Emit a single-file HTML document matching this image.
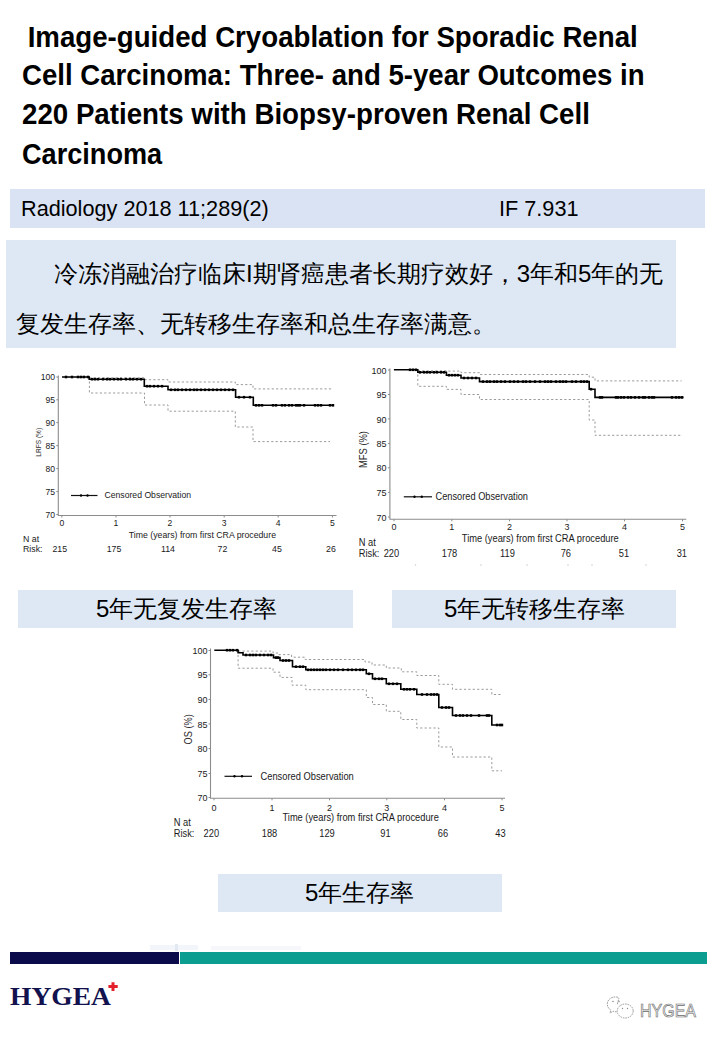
<!DOCTYPE html>
<html><head><meta charset="utf-8">
<style>
*{margin:0;padding:0;box-sizing:border-box}
html,body{width:720px;height:1040px;background:#fff;overflow:hidden}
body{position:relative;font-family:"Liberation Sans",sans-serif;color:#000}
.a{position:absolute;white-space:pre;line-height:1}
.t{font-weight:bold;font-size:29px;transform-origin:0 0}
.box{position:absolute}
.b1{background:#dae3f3}
.b2{background:#dee8f4}
.cap{font-size:24px}
svg{position:absolute;overflow:visible}
</style></head><body>
<div class="a t" style="left:20px;top:22.5px;transform:scaleX(.9536)"> Image-guided Cryoablation for Sporadic Renal</div>
<div class="a t" style="left:22px;top:60.5px;transform:scaleX(.9514)">Cell Carcinoma: Three- and 5-year Outcomes in</div>
<div class="a t" style="left:22px;top:99.5px;transform:scaleX(.955)">220 Patients with Biopsy-proven Renal Cell</div>
<div class="a t" style="left:22px;top:139.5px;transform:scaleX(.935)">Carcinoma</div>

<div class="box b1" style="left:10px;top:189px;width:695px;height:39px"></div>
<div class="a" style="left:21px;top:198px;font-size:22.5px;transform:scaleX(.963);transform-origin:0 0">Radiology 2018 11;289(2)</div>
<div class="a" style="left:499px;top:198px;font-size:22.5px;transform:scaleX(.963);transform-origin:0 0">IF 7.931</div>

<div class="box b2" style="left:6px;top:240px;width:670px;height:108px"></div>
<div class="a cap" style="left:54px;top:262px">冷冻消融治疗临床I期肾癌患者长期疗效好，3年和5年的无</div>
<div class="a cap" style="left:16px;top:312px">复发生存率、无转移生存率和总生存率满意。</div>

<div class="box b2" style="left:18px;top:590px;width:335px;height:38px"></div>
<div class="a cap" style="left:96px;top:597px">5年无复发生存率</div>
<div class="box b2" style="left:392px;top:590px;width:284px;height:38px"></div>
<div class="a cap" style="left:444px;top:597px">5年无转移生存率</div>
<div class="box b2" style="left:218px;top:874px;width:284px;height:38px"></div>
<div class="a cap" style="left:305px;top:881px">5年生存率</div>

<div class="box" style="left:150px;top:945px;width:48px;height:5px;background:#f2f5f9"></div>
<div class="box" style="left:175px;top:944px;width:3px;height:7px;background:#e2e9f0"></div>
<div class="box" style="left:211px;top:946px;width:90px;height:4px;background:#f5f7fa"></div>
<div class="box" style="left:10px;top:952px;width:169px;height:12px;background:#0b0b4c"></div>
<div class="box" style="left:180px;top:952px;width:527px;height:12px;background:#0b9e90"></div>
<div class="a" style="left:10px;top:984.3px;font-family:'Liberation Serif',serif;font-weight:bold;font-size:25px;color:#12124e;transform:scaleX(1.1);transform-origin:0 0">HYGEA</div>
<svg width="720" height="1040" style="left:0;top:0">
<path d="M113,982.2 v8.8 M108.4,986.6 h9.3" stroke="#e3202b" stroke-width="3" fill="none"/>
<g fill="none" stroke="#8f8f8f" stroke-width="0.9" stroke-dasharray="1.6 0.9">
<path d="M617.5,1004.2 C617.5,1000 621,997.5 616.5,997 C611,996.5 607.3,1000 607.3,1004 C607.3,1006.8 608.8,1008.8 610.8,1010.2 L610,1013 L613.2,1011.3 C614.5,1011.7 615.8,1011.9 617.2,1011.9"/>
<ellipse cx="625.2" cy="1011" rx="8" ry="7"/>
</g>
<g fill="#8f8f8f"><circle cx="613" cy="1001.5" r="0.8"/><circle cx="619" cy="1001.5" r="0.8"/><circle cx="622.5" cy="1008.5" r="0.7"/><circle cx="627.5" cy="1008.5" r="0.7"/></g>
</svg>
<div class="a" style="left:640px;top:1002px;font-size:18.4px;color:#f4f4f4;-webkit-text-stroke:0.65px #6a6a6a;transform:scaleX(.87);transform-origin:0 0">HYGEA</div>

<!--CHARTS--><svg width="720" height="1040" viewBox="0 0 720 1040" style="left:0;top:0;font-family:'Liberation Sans',sans-serif"><path d="M58.3,375.5 L58.3,515.5 L336.5,515.5" fill="none" stroke="#8c8c8c" stroke-width="1.1"/><path d="M56.3,377 L58.3,377" stroke="#8c8c8c" stroke-width="1"/><text transform="translate(55,377) scale(0.9091,1)" font-size="9.46" text-anchor="end" fill="#1a1a1a" dominant-baseline="central">100</text><path d="M56.3,399.8 L58.3,399.8" stroke="#8c8c8c" stroke-width="1"/><text transform="translate(55,399.8) scale(0.9091,1)" font-size="9.46" text-anchor="end" fill="#1a1a1a" dominant-baseline="central">95</text><path d="M56.3,422.6 L58.3,422.6" stroke="#8c8c8c" stroke-width="1"/><text transform="translate(55,422.6) scale(0.9091,1)" font-size="9.46" text-anchor="end" fill="#1a1a1a" dominant-baseline="central">90</text><path d="M56.3,445.6 L58.3,445.6" stroke="#8c8c8c" stroke-width="1"/><text transform="translate(55,445.6) scale(0.9091,1)" font-size="9.46" text-anchor="end" fill="#1a1a1a" dominant-baseline="central">85</text><path d="M56.3,468.6 L58.3,468.6" stroke="#8c8c8c" stroke-width="1"/><text transform="translate(55,468.6) scale(0.9091,1)" font-size="9.46" text-anchor="end" fill="#1a1a1a" dominant-baseline="central">80</text><path d="M56.3,491.6 L58.3,491.6" stroke="#8c8c8c" stroke-width="1"/><text transform="translate(55,491.6) scale(0.9091,1)" font-size="9.46" text-anchor="end" fill="#1a1a1a" dominant-baseline="central">75</text><path d="M56.3,514.5 L58.3,514.5" stroke="#8c8c8c" stroke-width="1"/><text transform="translate(55,514.5) scale(0.9091,1)" font-size="9.46" text-anchor="end" fill="#1a1a1a" dominant-baseline="central">70</text><path d="M61.8,515.5 L61.8,517.5" stroke="#8c8c8c" stroke-width="1"/><text transform="translate(61.8,522.8) scale(0.9091,1)" font-size="9.46" text-anchor="middle" fill="#1a1a1a" dominant-baseline="central">0</text><path d="M116,515.5 L116,517.5" stroke="#8c8c8c" stroke-width="1"/><text transform="translate(116,522.8) scale(0.9091,1)" font-size="9.46" text-anchor="middle" fill="#1a1a1a" dominant-baseline="central">1</text><path d="M170,515.5 L170,517.5" stroke="#8c8c8c" stroke-width="1"/><text transform="translate(170,522.8) scale(0.9091,1)" font-size="9.46" text-anchor="middle" fill="#1a1a1a" dominant-baseline="central">2</text><path d="M224.2,515.5 L224.2,517.5" stroke="#8c8c8c" stroke-width="1"/><text transform="translate(224.2,522.8) scale(0.9091,1)" font-size="9.46" text-anchor="middle" fill="#1a1a1a" dominant-baseline="central">3</text><path d="M278.2,515.5 L278.2,517.5" stroke="#8c8c8c" stroke-width="1"/><text transform="translate(278.2,522.8) scale(0.9091,1)" font-size="9.46" text-anchor="middle" fill="#1a1a1a" dominant-baseline="central">4</text><path d="M332.4,515.5 L332.4,517.5" stroke="#8c8c8c" stroke-width="1"/><text transform="translate(332.4,522.8) scale(0.9091,1)" font-size="9.46" text-anchor="middle" fill="#1a1a1a" dominant-baseline="central">5</text><text x="128.8" y="534" font-size="9.68" text-anchor="start" fill="#1a1a1a" dominant-baseline="central" textLength="147.2" lengthAdjust="spacingAndGlyphs">Time (years) from first CRA procedure</text><text transform="translate(23,538.9) scale(0.9091,1)" font-size="9.68" text-anchor="start" fill="#1a1a1a" dominant-baseline="central">N at</text><text transform="translate(23,549.2) scale(0.9091,1)" font-size="9.68" text-anchor="start" fill="#1a1a1a" dominant-baseline="central">Risk:</text><text transform="translate(59.8,549.2) scale(0.9091,1)" font-size="9.68" text-anchor="middle" fill="#1a1a1a" dominant-baseline="central">215</text><text transform="translate(114,549.2) scale(0.9091,1)" font-size="9.68" text-anchor="middle" fill="#1a1a1a" dominant-baseline="central">175</text><text transform="translate(168,549.2) scale(0.9091,1)" font-size="9.68" text-anchor="middle" fill="#1a1a1a" dominant-baseline="central">114</text><text transform="translate(222.5,549.2) scale(0.9091,1)" font-size="9.68" text-anchor="middle" fill="#1a1a1a" dominant-baseline="central">72</text><text transform="translate(277,549.2) scale(0.9091,1)" font-size="9.68" text-anchor="middle" fill="#1a1a1a" dominant-baseline="central">45</text><text transform="translate(331,549.2) scale(0.9091,1)" font-size="9.68" text-anchor="middle" fill="#1a1a1a" dominant-baseline="central">26</text><text x="38.1" y="442.3" font-size="7.4" text-anchor="middle" fill="#2a2a2a" dominant-baseline="central" transform="rotate(-90 38.1 442.3)" textLength="28.8" lengthAdjust="spacingAndGlyphs">LRFS (%)</text><path d="M71,495.5 L97.5,495.5" stroke="#111" stroke-width="1.2"/><circle cx="81" cy="495.5" r="1.2" fill="#000"/><circle cx="87.5" cy="495.5" r="1.2" fill="#000"/><text x="104.5" y="494.7" font-size="9.68" text-anchor="start" fill="#1a1a1a" dominant-baseline="central" textLength="86.5" lengthAdjust="spacingAndGlyphs">Censored Observation</text><path d="M89.2,377.8 L144.3,377.8 L144.3,379.7 L168,379.7 L168,382 L235.3,382 L235.3,384.6 L253,384.6 L253,388.9 L332.3,388.9" fill="none" stroke="#9a9a9a" stroke-width="1" stroke-dasharray="2.2 2.2"/><path d="M89.4,377 L89.4,393 L144.5,393 L144.5,405 L168,405 L168,411.2 L235.3,411.2 L235.3,427 L253,427 L253,441.6 L330,441.6" fill="none" stroke="#9a9a9a" stroke-width="1" stroke-dasharray="2.2 2.2"/><path d="M62,377 L89.2,377 L89.2,379.2 L144.3,379.2 L144.3,386.2 L168,386.2 L168,389.8 L235.6,389.8 L235.6,397.2 L253.3,397.2 L253.3,405.3 L334,405.3" fill="none" stroke="#000" stroke-width="1.6"/><rect x="64.8" y="375.7" width="2.4" height="2.6" fill="#000"/><rect x="70.8" y="375.7" width="2.4" height="2.6" fill="#000"/><rect x="76.8" y="375.7" width="2.4" height="2.6" fill="#000"/><rect x="79.8" y="375.7" width="2.4" height="2.6" fill="#000"/><rect x="82.8" y="375.7" width="2.4" height="2.6" fill="#000"/><rect x="86.8" y="375.7" width="2.4" height="2.6" fill="#000"/><rect x="90.8" y="377.9" width="2.4" height="2.6" fill="#000"/><rect x="93.8" y="377.9" width="2.4" height="2.6" fill="#000"/><rect x="96.8" y="377.9" width="2.4" height="2.6" fill="#000"/><rect x="101.8" y="377.9" width="2.4" height="2.6" fill="#000"/><rect x="105.8" y="377.9" width="2.4" height="2.6" fill="#000"/><rect x="108.8" y="377.9" width="2.4" height="2.6" fill="#000"/><rect x="112.8" y="377.9" width="2.4" height="2.6" fill="#000"/><rect x="116.8" y="377.9" width="2.4" height="2.6" fill="#000"/><rect x="119.8" y="377.9" width="2.4" height="2.6" fill="#000"/><rect x="124.8" y="377.9" width="2.4" height="2.6" fill="#000"/><rect x="128.8" y="377.9" width="2.4" height="2.6" fill="#000"/><rect x="131.8" y="377.9" width="2.4" height="2.6" fill="#000"/><rect x="135.8" y="377.9" width="2.4" height="2.6" fill="#000"/><rect x="139.8" y="377.9" width="2.4" height="2.6" fill="#000"/><rect x="145.8" y="384.9" width="2.4" height="2.6" fill="#000"/><rect x="148.8" y="384.9" width="2.4" height="2.6" fill="#000"/><rect x="152.8" y="384.9" width="2.4" height="2.6" fill="#000"/><rect x="156.8" y="384.9" width="2.4" height="2.6" fill="#000"/><rect x="160.8" y="384.9" width="2.4" height="2.6" fill="#000"/><rect x="169.8" y="388.5" width="2.4" height="2.6" fill="#000"/><rect x="173.8" y="388.5" width="2.4" height="2.6" fill="#000"/><rect x="176.8" y="388.5" width="2.4" height="2.6" fill="#000"/><rect x="180.8" y="388.5" width="2.4" height="2.6" fill="#000"/><rect x="184.8" y="388.5" width="2.4" height="2.6" fill="#000"/><rect x="188.8" y="388.5" width="2.4" height="2.6" fill="#000"/><rect x="192.8" y="388.5" width="2.4" height="2.6" fill="#000"/><rect x="195.8" y="388.5" width="2.4" height="2.6" fill="#000"/><rect x="199.8" y="388.5" width="2.4" height="2.6" fill="#000"/><rect x="203.8" y="388.5" width="2.4" height="2.6" fill="#000"/><rect x="207.8" y="388.5" width="2.4" height="2.6" fill="#000"/><rect x="211.8" y="388.5" width="2.4" height="2.6" fill="#000"/><rect x="215.8" y="388.5" width="2.4" height="2.6" fill="#000"/><rect x="219.8" y="388.5" width="2.4" height="2.6" fill="#000"/><rect x="223.8" y="388.5" width="2.4" height="2.6" fill="#000"/><rect x="227.8" y="388.5" width="2.4" height="2.6" fill="#000"/><rect x="231.8" y="388.5" width="2.4" height="2.6" fill="#000"/><rect x="237.8" y="395.9" width="2.4" height="2.6" fill="#000"/><rect x="242.8" y="395.9" width="2.4" height="2.6" fill="#000"/><rect x="248.8" y="395.9" width="2.4" height="2.6" fill="#000"/><rect x="254.8" y="404.0" width="2.4" height="2.6" fill="#000"/><rect x="257.8" y="404.0" width="2.4" height="2.6" fill="#000"/><rect x="260.8" y="404.0" width="2.4" height="2.6" fill="#000"/><rect x="271.8" y="404.0" width="2.4" height="2.6" fill="#000"/><rect x="274.8" y="404.0" width="2.4" height="2.6" fill="#000"/><rect x="280.8" y="404.0" width="2.4" height="2.6" fill="#000"/><rect x="283.8" y="404.0" width="2.4" height="2.6" fill="#000"/><rect x="287.8" y="404.0" width="2.4" height="2.6" fill="#000"/><rect x="290.8" y="404.0" width="2.4" height="2.6" fill="#000"/><rect x="294.8" y="404.0" width="2.4" height="2.6" fill="#000"/><rect x="296.8" y="404.0" width="2.4" height="2.6" fill="#000"/><rect x="298.8" y="404.0" width="2.4" height="2.6" fill="#000"/><rect x="302.8" y="404.0" width="2.4" height="2.6" fill="#000"/><rect x="313.8" y="404.0" width="2.4" height="2.6" fill="#000"/><rect x="316.8" y="404.0" width="2.4" height="2.6" fill="#000"/><rect x="319.8" y="404.0" width="2.4" height="2.6" fill="#000"/><rect x="328.8" y="404.0" width="2.4" height="2.6" fill="#000"/><rect x="331.8" y="404.0" width="2.4" height="2.6" fill="#000"/><path d="M389.9,368.5 L389.9,519.3 L686.3,519.3" fill="none" stroke="#8c8c8c" stroke-width="1.1"/><path d="M387.9,370 L389.9,370" stroke="#8c8c8c" stroke-width="1"/><text transform="translate(386.5,370) scale(0.9091,1)" font-size="9.90" text-anchor="end" fill="#1a1a1a" dominant-baseline="central">100</text><path d="M387.9,394.5 L389.9,394.5" stroke="#8c8c8c" stroke-width="1"/><text transform="translate(386.5,394.5) scale(0.9091,1)" font-size="9.90" text-anchor="end" fill="#1a1a1a" dominant-baseline="central">95</text><path d="M387.9,418.9 L389.9,418.9" stroke="#8c8c8c" stroke-width="1"/><text transform="translate(386.5,418.9) scale(0.9091,1)" font-size="9.90" text-anchor="end" fill="#1a1a1a" dominant-baseline="central">90</text><path d="M387.9,443.6 L389.9,443.6" stroke="#8c8c8c" stroke-width="1"/><text transform="translate(386.5,443.6) scale(0.9091,1)" font-size="9.90" text-anchor="end" fill="#1a1a1a" dominant-baseline="central">85</text><path d="M387.9,467.8 L389.9,467.8" stroke="#8c8c8c" stroke-width="1"/><text transform="translate(386.5,467.8) scale(0.9091,1)" font-size="9.90" text-anchor="end" fill="#1a1a1a" dominant-baseline="central">80</text><path d="M387.9,492.4 L389.9,492.4" stroke="#8c8c8c" stroke-width="1"/><text transform="translate(386.5,492.4) scale(0.9091,1)" font-size="9.90" text-anchor="end" fill="#1a1a1a" dominant-baseline="central">75</text><path d="M387.9,517 L389.9,517" stroke="#8c8c8c" stroke-width="1"/><text transform="translate(386.5,517) scale(0.9091,1)" font-size="9.90" text-anchor="end" fill="#1a1a1a" dominant-baseline="central">70</text><path d="M394,519.3 L394,521.3" stroke="#8c8c8c" stroke-width="1"/><text transform="translate(394,526.5) scale(0.9091,1)" font-size="9.90" text-anchor="middle" fill="#1a1a1a" dominant-baseline="central">0</text><path d="M451.8,519.3 L451.8,521.3" stroke="#8c8c8c" stroke-width="1"/><text transform="translate(451.8,526.5) scale(0.9091,1)" font-size="9.90" text-anchor="middle" fill="#1a1a1a" dominant-baseline="central">1</text><path d="M509.5,519.3 L509.5,521.3" stroke="#8c8c8c" stroke-width="1"/><text transform="translate(509.5,526.5) scale(0.9091,1)" font-size="9.90" text-anchor="middle" fill="#1a1a1a" dominant-baseline="central">2</text><path d="M567,519.3 L567,521.3" stroke="#8c8c8c" stroke-width="1"/><text transform="translate(567,526.5) scale(0.9091,1)" font-size="9.90" text-anchor="middle" fill="#1a1a1a" dominant-baseline="central">3</text><path d="M624.5,519.3 L624.5,521.3" stroke="#8c8c8c" stroke-width="1"/><text transform="translate(624.5,526.5) scale(0.9091,1)" font-size="9.90" text-anchor="middle" fill="#1a1a1a" dominant-baseline="central">4</text><path d="M682.5,519.3 L682.5,521.3" stroke="#8c8c8c" stroke-width="1"/><text transform="translate(682.5,526.5) scale(0.9091,1)" font-size="9.90" text-anchor="middle" fill="#1a1a1a" dominant-baseline="central">5</text><text x="461.8" y="538.2" font-size="10.23" text-anchor="start" fill="#1a1a1a" dominant-baseline="central" textLength="157" lengthAdjust="spacingAndGlyphs">Time (years) from first CRA procedure</text><text transform="translate(358.8,542.2) scale(0.9091,1)" font-size="10.23" text-anchor="start" fill="#1a1a1a" dominant-baseline="central">N at</text><text transform="translate(358.8,553.2) scale(0.9091,1)" font-size="10.23" text-anchor="start" fill="#1a1a1a" dominant-baseline="central">Risk:</text><text transform="translate(391.4,553.2) scale(0.9091,1)" font-size="10.23" text-anchor="middle" fill="#1a1a1a" dominant-baseline="central">220</text><text transform="translate(449.5,553.2) scale(0.9091,1)" font-size="10.23" text-anchor="middle" fill="#1a1a1a" dominant-baseline="central">178</text><text transform="translate(507.5,553.2) scale(0.9091,1)" font-size="10.23" text-anchor="middle" fill="#1a1a1a" dominant-baseline="central">119</text><text transform="translate(565.8,553.2) scale(0.9091,1)" font-size="10.23" text-anchor="middle" fill="#1a1a1a" dominant-baseline="central">76</text><text transform="translate(624,553.2) scale(0.9091,1)" font-size="10.23" text-anchor="middle" fill="#1a1a1a" dominant-baseline="central">51</text><text transform="translate(681.8,553.2) scale(0.9091,1)" font-size="10.23" text-anchor="middle" fill="#1a1a1a" dominant-baseline="central">31</text><text x="362.9" y="449.5" font-size="10.8" text-anchor="middle" fill="#2a2a2a" dominant-baseline="central" transform="rotate(-90 362.9 449.5)" textLength="37" lengthAdjust="spacingAndGlyphs">MFS (%)</text><path d="M403.8,496.8 L432,496.8" stroke="#111" stroke-width="1.2"/><circle cx="414.5" cy="496.8" r="1.2" fill="#000"/><circle cx="421.8" cy="496.8" r="1.2" fill="#000"/><text x="435.5" y="496.8" font-size="10.23" text-anchor="start" fill="#1a1a1a" dominant-baseline="central" textLength="92.5" lengthAdjust="spacingAndGlyphs">Censored Observation</text><path d="M417.8,370.8 L446.4,370.8 L446.4,371.1 L461,371.1 L461,372.7 L479.5,372.7 L479.5,374.5 L589.2,374.5 L589.2,377.2 L595,377.2 L595,380.9 L681.6,380.9" fill="none" stroke="#9a9a9a" stroke-width="1" stroke-dasharray="2.2 2.2"/><path d="M417.8,370 L417.8,386.3 L446.4,386.3 L446.4,389.4 L461,389.4 L461,394.5 L479.5,394.5 L479.5,399.5 L589.2,399.5 L589.2,420 L595,420 L595,435.3 L682.6,435.3" fill="none" stroke="#9a9a9a" stroke-width="1" stroke-dasharray="2.2 2.2"/><path d="M393.9,369.8 L417.8,369.8 L417.8,372.3 L446.4,372.3 L446.4,375.2 L461,375.2 L461,378 L479.5,378 L479.5,381.6 L589.2,381.6 L589.2,389.2 L595,389.2 L595,397.4 L683.5,397.4" fill="none" stroke="#000" stroke-width="1.6"/><rect x="408.8" y="368.5" width="2.4" height="2.6" fill="#000"/><rect x="411.8" y="368.5" width="2.4" height="2.6" fill="#000"/><rect x="414.8" y="368.5" width="2.4" height="2.6" fill="#000"/><rect x="418.8" y="371.0" width="2.4" height="2.6" fill="#000"/><rect x="422.8" y="371.0" width="2.4" height="2.6" fill="#000"/><rect x="425.8" y="371.0" width="2.4" height="2.6" fill="#000"/><rect x="428.8" y="371.0" width="2.4" height="2.6" fill="#000"/><rect x="432.8" y="371.0" width="2.4" height="2.6" fill="#000"/><rect x="435.8" y="371.0" width="2.4" height="2.6" fill="#000"/><rect x="439.8" y="371.0" width="2.4" height="2.6" fill="#000"/><rect x="442.8" y="371.0" width="2.4" height="2.6" fill="#000"/><rect x="447.8" y="373.9" width="2.4" height="2.6" fill="#000"/><rect x="450.8" y="373.9" width="2.4" height="2.6" fill="#000"/><rect x="453.8" y="373.9" width="2.4" height="2.6" fill="#000"/><rect x="456.8" y="373.9" width="2.4" height="2.6" fill="#000"/><rect x="462.8" y="376.7" width="2.4" height="2.6" fill="#000"/><rect x="466.8" y="376.7" width="2.4" height="2.6" fill="#000"/><rect x="470.8" y="376.7" width="2.4" height="2.6" fill="#000"/><rect x="474.8" y="376.7" width="2.4" height="2.6" fill="#000"/><rect x="481.8" y="380.3" width="2.4" height="2.6" fill="#000"/><rect x="485.8" y="380.3" width="2.4" height="2.6" fill="#000"/><rect x="488.8" y="380.3" width="2.4" height="2.6" fill="#000"/><rect x="492.8" y="380.3" width="2.4" height="2.6" fill="#000"/><rect x="495.8" y="380.3" width="2.4" height="2.6" fill="#000"/><rect x="499.8" y="380.3" width="2.4" height="2.6" fill="#000"/><rect x="503.8" y="380.3" width="2.4" height="2.6" fill="#000"/><rect x="508.8" y="380.3" width="2.4" height="2.6" fill="#000"/><rect x="512.8" y="380.3" width="2.4" height="2.6" fill="#000"/><rect x="516.8" y="380.3" width="2.4" height="2.6" fill="#000"/><rect x="521.8" y="380.3" width="2.4" height="2.6" fill="#000"/><rect x="524.8" y="380.3" width="2.4" height="2.6" fill="#000"/><rect x="528.8" y="380.3" width="2.4" height="2.6" fill="#000"/><rect x="533.8" y="380.3" width="2.4" height="2.6" fill="#000"/><rect x="538.8" y="380.3" width="2.4" height="2.6" fill="#000"/><rect x="543.8" y="380.3" width="2.4" height="2.6" fill="#000"/><rect x="546.8" y="380.3" width="2.4" height="2.6" fill="#000"/><rect x="549.8" y="380.3" width="2.4" height="2.6" fill="#000"/><rect x="554.8" y="380.3" width="2.4" height="2.6" fill="#000"/><rect x="558.8" y="380.3" width="2.4" height="2.6" fill="#000"/><rect x="561.8" y="380.3" width="2.4" height="2.6" fill="#000"/><rect x="564.8" y="380.3" width="2.4" height="2.6" fill="#000"/><rect x="570.8" y="380.3" width="2.4" height="2.6" fill="#000"/><rect x="574.8" y="380.3" width="2.4" height="2.6" fill="#000"/><rect x="579.8" y="380.3" width="2.4" height="2.6" fill="#000"/><rect x="582.8" y="380.3" width="2.4" height="2.6" fill="#000"/><rect x="585.8" y="380.3" width="2.4" height="2.6" fill="#000"/><rect x="589.8" y="387.9" width="2.4" height="2.6" fill="#000"/><rect x="598.8" y="396.09999999999997" width="2.4" height="2.6" fill="#000"/><rect x="600.8" y="396.09999999999997" width="2.4" height="2.6" fill="#000"/><rect x="614.8" y="396.09999999999997" width="2.4" height="2.6" fill="#000"/><rect x="616.8" y="396.09999999999997" width="2.4" height="2.6" fill="#000"/><rect x="619.8" y="396.09999999999997" width="2.4" height="2.6" fill="#000"/><rect x="622.8" y="396.09999999999997" width="2.4" height="2.6" fill="#000"/><rect x="626.8" y="396.09999999999997" width="2.4" height="2.6" fill="#000"/><rect x="629.8" y="396.09999999999997" width="2.4" height="2.6" fill="#000"/><rect x="633.8" y="396.09999999999997" width="2.4" height="2.6" fill="#000"/><rect x="637.8" y="396.09999999999997" width="2.4" height="2.6" fill="#000"/><rect x="641.8" y="396.09999999999997" width="2.4" height="2.6" fill="#000"/><rect x="643.8" y="396.09999999999997" width="2.4" height="2.6" fill="#000"/><rect x="647.8" y="396.09999999999997" width="2.4" height="2.6" fill="#000"/><rect x="650.8" y="396.09999999999997" width="2.4" height="2.6" fill="#000"/><rect x="652.8" y="396.09999999999997" width="2.4" height="2.6" fill="#000"/><rect x="670.8" y="396.09999999999997" width="2.4" height="2.6" fill="#000"/><rect x="674.8" y="396.09999999999997" width="2.4" height="2.6" fill="#000"/><rect x="677.8" y="396.09999999999997" width="2.4" height="2.6" fill="#000"/><rect x="680.8" y="396.09999999999997" width="2.4" height="2.6" fill="#000"/><path d="M210.5,648.5 L210.5,798.3 L505,798.3" fill="none" stroke="#8c8c8c" stroke-width="1.1"/><path d="M208.5,650.5 L210.5,650.5" stroke="#8c8c8c" stroke-width="1"/><text transform="translate(207.5,650.5) scale(0.9091,1)" font-size="9.90" text-anchor="end" fill="#1a1a1a" dominant-baseline="central">100</text><path d="M208.5,674.8 L210.5,674.8" stroke="#8c8c8c" stroke-width="1"/><text transform="translate(207.5,674.8) scale(0.9091,1)" font-size="9.90" text-anchor="end" fill="#1a1a1a" dominant-baseline="central">95</text><path d="M208.5,699.4 L210.5,699.4" stroke="#8c8c8c" stroke-width="1"/><text transform="translate(207.5,699.4) scale(0.9091,1)" font-size="9.90" text-anchor="end" fill="#1a1a1a" dominant-baseline="central">90</text><path d="M208.5,723.9 L210.5,723.9" stroke="#8c8c8c" stroke-width="1"/><text transform="translate(207.5,723.9) scale(0.9091,1)" font-size="9.90" text-anchor="end" fill="#1a1a1a" dominant-baseline="central">85</text><path d="M208.5,748.6 L210.5,748.6" stroke="#8c8c8c" stroke-width="1"/><text transform="translate(207.5,748.6) scale(0.9091,1)" font-size="9.90" text-anchor="end" fill="#1a1a1a" dominant-baseline="central">80</text><path d="M208.5,773.5 L210.5,773.5" stroke="#8c8c8c" stroke-width="1"/><text transform="translate(207.5,773.5) scale(0.9091,1)" font-size="9.90" text-anchor="end" fill="#1a1a1a" dominant-baseline="central">75</text><path d="M208.5,797.5 L210.5,797.5" stroke="#8c8c8c" stroke-width="1"/><text transform="translate(207.5,797.5) scale(0.9091,1)" font-size="9.90" text-anchor="end" fill="#1a1a1a" dominant-baseline="central">70</text><path d="M214,798.3 L214,800.3" stroke="#8c8c8c" stroke-width="1"/><text transform="translate(214,807) scale(0.9091,1)" font-size="9.90" text-anchor="middle" fill="#1a1a1a" dominant-baseline="central">0</text><path d="M272,798.3 L272,800.3" stroke="#8c8c8c" stroke-width="1"/><text transform="translate(272,807) scale(0.9091,1)" font-size="9.90" text-anchor="middle" fill="#1a1a1a" dominant-baseline="central">1</text><path d="M329.5,798.3 L329.5,800.3" stroke="#8c8c8c" stroke-width="1"/><text transform="translate(329.5,807) scale(0.9091,1)" font-size="9.90" text-anchor="middle" fill="#1a1a1a" dominant-baseline="central">2</text><path d="M386.8,798.3 L386.8,800.3" stroke="#8c8c8c" stroke-width="1"/><text transform="translate(386.8,807) scale(0.9091,1)" font-size="9.90" text-anchor="middle" fill="#1a1a1a" dominant-baseline="central">3</text><path d="M444.5,798.3 L444.5,800.3" stroke="#8c8c8c" stroke-width="1"/><text transform="translate(444.5,807) scale(0.9091,1)" font-size="9.90" text-anchor="middle" fill="#1a1a1a" dominant-baseline="central">4</text><path d="M502,798.3 L502,800.3" stroke="#8c8c8c" stroke-width="1"/><text transform="translate(502,807) scale(0.9091,1)" font-size="9.90" text-anchor="middle" fill="#1a1a1a" dominant-baseline="central">5</text><text x="282.5" y="817.6" font-size="10.23" text-anchor="start" fill="#1a1a1a" dominant-baseline="central" textLength="156.3" lengthAdjust="spacingAndGlyphs">Time (years) from first CRA procedure</text><text transform="translate(173.8,822.6) scale(0.9091,1)" font-size="10.23" text-anchor="start" fill="#1a1a1a" dominant-baseline="central">N at</text><text transform="translate(173.8,833.3) scale(0.9091,1)" font-size="10.23" text-anchor="start" fill="#1a1a1a" dominant-baseline="central">Risk:</text><text transform="translate(211.3,833.3) scale(0.9091,1)" font-size="10.23" text-anchor="middle" fill="#1a1a1a" dominant-baseline="central">220</text><text transform="translate(269.5,833.3) scale(0.9091,1)" font-size="10.23" text-anchor="middle" fill="#1a1a1a" dominant-baseline="central">188</text><text transform="translate(327,833.3) scale(0.9091,1)" font-size="10.23" text-anchor="middle" fill="#1a1a1a" dominant-baseline="central">129</text><text transform="translate(385.5,833.3) scale(0.9091,1)" font-size="10.23" text-anchor="middle" fill="#1a1a1a" dominant-baseline="central">91</text><text transform="translate(443,833.3) scale(0.9091,1)" font-size="10.23" text-anchor="middle" fill="#1a1a1a" dominant-baseline="central">66</text><text transform="translate(500.5,833.3) scale(0.9091,1)" font-size="10.23" text-anchor="middle" fill="#1a1a1a" dominant-baseline="central">43</text><text x="188.2" y="729.3" font-size="10.8" text-anchor="middle" fill="#2a2a2a" dominant-baseline="central" transform="rotate(-90 188.2 729.3)" textLength="30.2" lengthAdjust="spacingAndGlyphs">OS (%)</text><path d="M224.5,776.3 L252,776.3" stroke="#111" stroke-width="1.2"/><circle cx="234.5" cy="776.3" r="1.2" fill="#000"/><circle cx="242" cy="776.3" r="1.2" fill="#000"/><text x="260.5" y="776.3" font-size="10.23" text-anchor="start" fill="#1a1a1a" dominant-baseline="central" textLength="93.3" lengthAdjust="spacingAndGlyphs">Censored Observation</text><path d="M238.1,651.1 L273,651.1 L273,653 L278,653 L278,654.6 L291.6,654.6 L291.6,657.2 L305.2,657.2 L305.2,659.5 L365,659.5 L365,662 L372,662 L372,665 L386.3,665 L386.3,668 L401.3,668 L401.3,671.8 L416.8,671.8 L416.8,675.5 L438.8,675.5 L438.8,684.3 L452.5,684.3 L452.5,689.3 L491.8,689.3 L491.8,694.5 L502.5,694.5" fill="none" stroke="#9a9a9a" stroke-width="1" stroke-dasharray="2.2 2.2"/><path d="M238.1,650.5 L238.1,668.2 L273,668.2 L273,672.2 L280,672.2 L280,677.4 L292,677.4 L292,685.2 L305.8,685.2 L305.8,689.7 L366.3,689.7 L366.3,697.5 L372.5,697.5 L372.5,704.5 L386.3,704.5 L386.3,711.3 L400.8,711.3 L400.8,719.5 L416.8,719.5 L416.8,728 L438.8,728 L438.8,747 L452.5,747 L452.5,757 L491.8,757 L491.8,770.8 L502,770.8" fill="none" stroke="#9a9a9a" stroke-width="1" stroke-dasharray="2.2 2.2"/><path d="M214.3,650.2 L238.1,650.2 L238.1,652.7 L243,652.7 L243,655 L273.5,655 L273.5,657.6 L280,657.6 L280,660.5 L292.5,660.5 L292.5,666.7 L305.8,666.7 L305.8,669.8 L366.3,669.8 L366.3,673.8 L372.5,673.8 L372.5,678.8 L386.3,678.8 L386.3,683.8 L400.8,683.8 L400.8,689.3 L416.8,689.3 L416.8,694.5 L438.8,694.5 L438.8,707.5 L452.5,707.5 L452.5,715.5 L491.8,715.5 L491.8,725 L502.5,725" fill="none" stroke="#000" stroke-width="1.6"/><rect x="225.8" y="648.9000000000001" width="2.4" height="2.6" fill="#000"/><rect x="228.8" y="648.9000000000001" width="2.4" height="2.6" fill="#000"/><rect x="231.8" y="648.9000000000001" width="2.4" height="2.6" fill="#000"/><rect x="235.8" y="648.9000000000001" width="2.4" height="2.6" fill="#000"/><rect x="244.8" y="653.7" width="2.4" height="2.6" fill="#000"/><rect x="248.8" y="653.7" width="2.4" height="2.6" fill="#000"/><rect x="251.8" y="653.7" width="2.4" height="2.6" fill="#000"/><rect x="254.8" y="653.7" width="2.4" height="2.6" fill="#000"/><rect x="258.8" y="653.7" width="2.4" height="2.6" fill="#000"/><rect x="262.8" y="653.7" width="2.4" height="2.6" fill="#000"/><rect x="266.8" y="653.7" width="2.4" height="2.6" fill="#000"/><rect x="269.8" y="653.7" width="2.4" height="2.6" fill="#000"/><rect x="274.8" y="656.3000000000001" width="2.4" height="2.6" fill="#000"/><rect x="276.8" y="656.3000000000001" width="2.4" height="2.6" fill="#000"/><rect x="281.8" y="659.2" width="2.4" height="2.6" fill="#000"/><rect x="284.8" y="659.2" width="2.4" height="2.6" fill="#000"/><rect x="287.8" y="659.2" width="2.4" height="2.6" fill="#000"/><rect x="294.8" y="665.4000000000001" width="2.4" height="2.6" fill="#000"/><rect x="298.8" y="665.4000000000001" width="2.4" height="2.6" fill="#000"/><rect x="301.8" y="665.4000000000001" width="2.4" height="2.6" fill="#000"/><rect x="306.8" y="668.5" width="2.4" height="2.6" fill="#000"/><rect x="309.8" y="668.5" width="2.4" height="2.6" fill="#000"/><rect x="312.8" y="668.5" width="2.4" height="2.6" fill="#000"/><rect x="315.8" y="668.5" width="2.4" height="2.6" fill="#000"/><rect x="318.8" y="668.5" width="2.4" height="2.6" fill="#000"/><rect x="321.8" y="668.5" width="2.4" height="2.6" fill="#000"/><rect x="324.8" y="668.5" width="2.4" height="2.6" fill="#000"/><rect x="328.8" y="668.5" width="2.4" height="2.6" fill="#000"/><rect x="332.8" y="668.5" width="2.4" height="2.6" fill="#000"/><rect x="336.8" y="668.5" width="2.4" height="2.6" fill="#000"/><rect x="341.8" y="668.5" width="2.4" height="2.6" fill="#000"/><rect x="346.8" y="668.5" width="2.4" height="2.6" fill="#000"/><rect x="350.8" y="668.5" width="2.4" height="2.6" fill="#000"/><rect x="354.8" y="668.5" width="2.4" height="2.6" fill="#000"/><rect x="358.8" y="668.5" width="2.4" height="2.6" fill="#000"/><rect x="361.8" y="668.5" width="2.4" height="2.6" fill="#000"/><rect x="367.8" y="672.5" width="2.4" height="2.6" fill="#000"/><rect x="373.8" y="677.5" width="2.4" height="2.6" fill="#000"/><rect x="377.8" y="677.5" width="2.4" height="2.6" fill="#000"/><rect x="380.8" y="677.5" width="2.4" height="2.6" fill="#000"/><rect x="387.8" y="682.5" width="2.4" height="2.6" fill="#000"/><rect x="391.8" y="682.5" width="2.4" height="2.6" fill="#000"/><rect x="395.8" y="682.5" width="2.4" height="2.6" fill="#000"/><rect x="402.8" y="688.0" width="2.4" height="2.6" fill="#000"/><rect x="405.8" y="688.0" width="2.4" height="2.6" fill="#000"/><rect x="408.8" y="688.0" width="2.4" height="2.6" fill="#000"/><rect x="412.8" y="688.0" width="2.4" height="2.6" fill="#000"/><rect x="420.8" y="693.2" width="2.4" height="2.6" fill="#000"/><rect x="425.8" y="693.2" width="2.4" height="2.6" fill="#000"/><rect x="429.8" y="693.2" width="2.4" height="2.6" fill="#000"/><rect x="432.8" y="693.2" width="2.4" height="2.6" fill="#000"/><rect x="435.8" y="693.2" width="2.4" height="2.6" fill="#000"/><rect x="440.8" y="706.2" width="2.4" height="2.6" fill="#000"/><rect x="444.8" y="706.2" width="2.4" height="2.6" fill="#000"/><rect x="447.8" y="706.2" width="2.4" height="2.6" fill="#000"/><rect x="454.8" y="714.2" width="2.4" height="2.6" fill="#000"/><rect x="458.8" y="714.2" width="2.4" height="2.6" fill="#000"/><rect x="461.8" y="714.2" width="2.4" height="2.6" fill="#000"/><rect x="465.8" y="714.2" width="2.4" height="2.6" fill="#000"/><rect x="469.8" y="714.2" width="2.4" height="2.6" fill="#000"/><rect x="477.8" y="714.2" width="2.4" height="2.6" fill="#000"/><rect x="485.8" y="714.2" width="2.4" height="2.6" fill="#000"/><rect x="487.8" y="714.2" width="2.4" height="2.6" fill="#000"/><rect x="495.8" y="723.7" width="2.4" height="2.6" fill="#000"/><rect x="498.8" y="723.7" width="2.4" height="2.6" fill="#000"/><rect x="500.8" y="723.7" width="2.4" height="2.6" fill="#000"/><rect x="414.9" y="564.5" width="1.2" height="1" fill="#bbb"/><rect x="480.4" y="564.5" width="1.2" height="1" fill="#bbb"/><rect x="526.4" y="564.5" width="1.2" height="1" fill="#bbb"/><rect x="567.4" y="564.5" width="1.2" height="1" fill="#bbb"/><rect x="591.4" y="564.5" width="1.2" height="1" fill="#bbb"/><rect x="645.4" y="564.5" width="1.2" height="1" fill="#bbb"/></svg><!--/CHARTS-->
</body></html>
